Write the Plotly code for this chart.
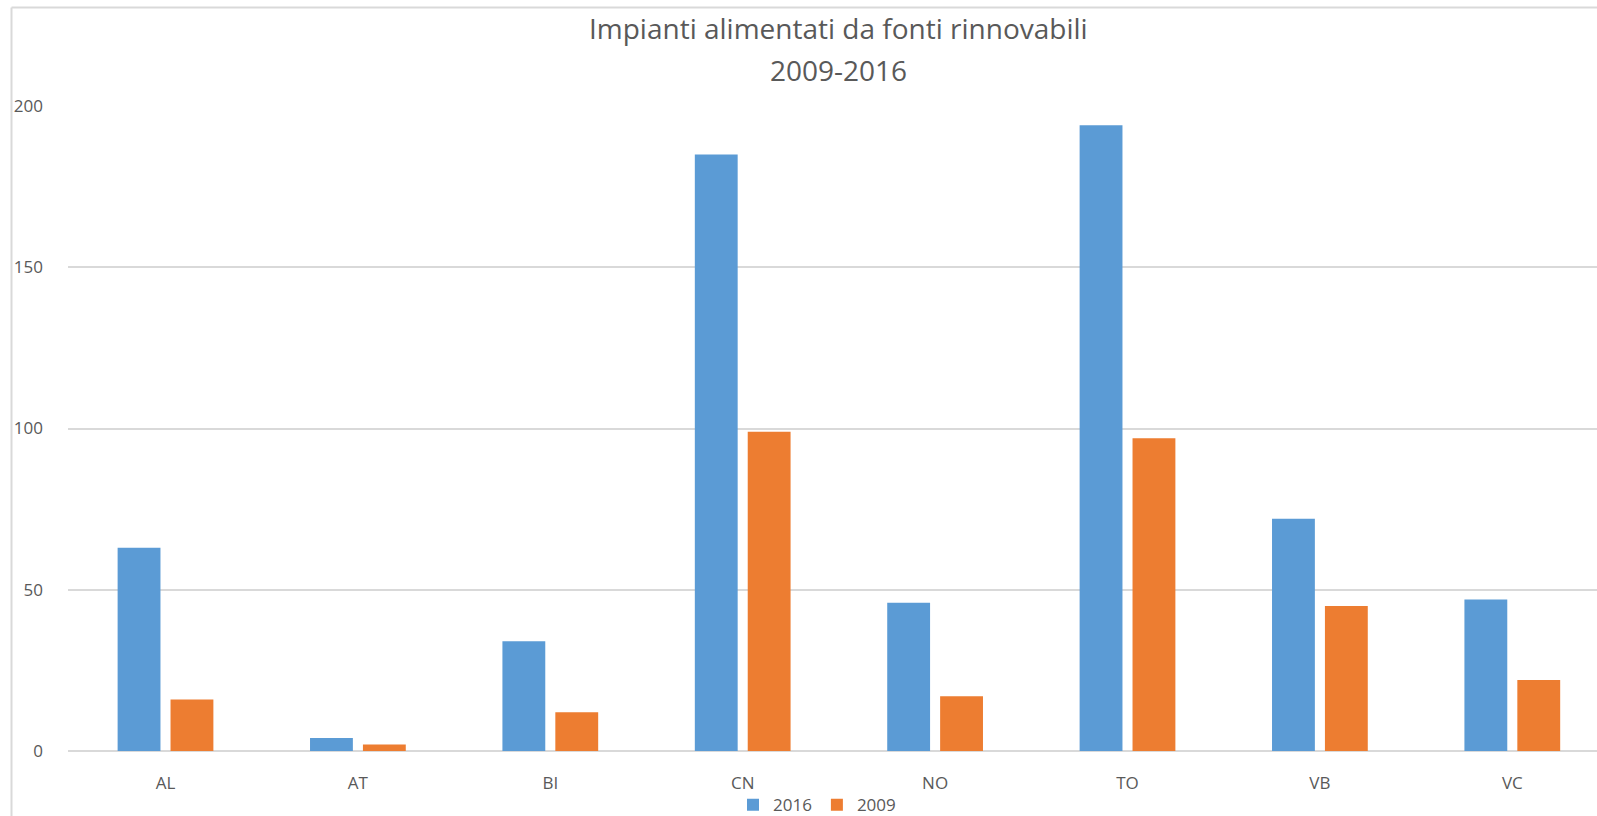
import plotly.graph_objects as go

categories = ["AL", "AT", "BI", "CN", "NO", "TO", "VB", "VC"]
values_2016 = [63, 4, 34, 185, 46, 194, 72, 47]
values_2009 = [16, 2, 12, 99, 17, 97, 45, 22]
y_ticks = [0, 50, 100, 150, 200]
title_line1 = "Impianti alimentati da fonti rinnovabili"
title_line2 = "2009-2016"

W, H = 1597, 816
ML, MR, MT, MB = 68, 0, 105.5, 64.7
PW, PH = W - ML - MR, H - MT - MB
BAND = 192.4          # pixels per category
FIRST_CENTER = 165.5  # pixel x of first category centre

BLUE = "#5B9BD5"
ORANGE = "#ED7D31"
TXT = "#595959"
GRID = "#D9D9D9"
FONT = "Open Sans"

fig = go.Figure()
fig.add_trace(go.Bar(name="2016", x=categories, y=values_2016, marker_color=BLUE,
                     marker_line_width=0))
fig.add_trace(go.Bar(name="2009", x=categories, y=values_2009, marker_color=ORANGE,
                     marker_line_width=0))

def px_x(px):
    return (px - ML) / PW

def px_y(py):
    return (H - MB - py) / PH

x_lo = -(FIRST_CENTER - ML) / BAND
x_hi = x_lo + PW / BAND

fig.update_layout(
    width=W, height=H,
    margin=dict(l=ML, r=MR, t=MT, b=MB, pad=0, autoexpand=False),
    paper_bgcolor="white", plot_bgcolor="white",
    barmode="group", bargap=0.45, bargroupgap=0.19,
    font=dict(family=FONT, color=TXT, size=18),
    showlegend=True,
    legend=dict(orientation="h", x=px_x(817), xanchor="center", y=px_y(805.5),
                yanchor="middle", font=dict(size=17, color=TXT), itemwidth=30,
                bgcolor="rgba(0,0,0,0)", traceorder="normal"),
    xaxis=dict(range=[x_lo, x_hi], showgrid=False, showline=False,
               ticks="", ticklabelstandoff=20,
               tickfont=dict(size=17, color=TXT), fixedrange=True),
    yaxis=dict(range=[0, 200], tickvals=y_ticks, showgrid=True, gridcolor=GRID,
               gridwidth=1.5, zeroline=True, zerolinecolor=GRID, zerolinewidth=2,
               showline=False, ticks="", ticklabelstandoff=24,
               tickfont=dict(size=17, color=TXT)),
    annotations=[
        dict(text=title_line1, xref="paper", yref="paper", x=px_x(838), y=px_y(27.5),
             xanchor="center", yanchor="middle", showarrow=False,
             font=dict(family=FONT, size=28, color=TXT)),
        dict(text=title_line2, xref="paper", yref="paper", x=px_x(838), y=px_y(69),
             xanchor="center", yanchor="middle", showarrow=False,
             font=dict(family=FONT, size=28, color=TXT)),
    ],
    shapes=[
        dict(type="line", xref="paper", yref="paper", x0=px_x(11.5), x1=px_x(11.5),
             y0=px_y(7), y1=px_y(H + 5), line=dict(color=GRID, width=2)),
        dict(type="line", xref="paper", yref="paper", x0=px_x(11.5), x1=px_x(W + 5),
             y0=px_y(7), y1=px_y(7), line=dict(color=GRID, width=2)),
    ],
)

fig.write_html("out.html", config={"displayModeBar": False},
               post_script="document.body.style.margin='0';document.body.style.overflow='hidden';")
